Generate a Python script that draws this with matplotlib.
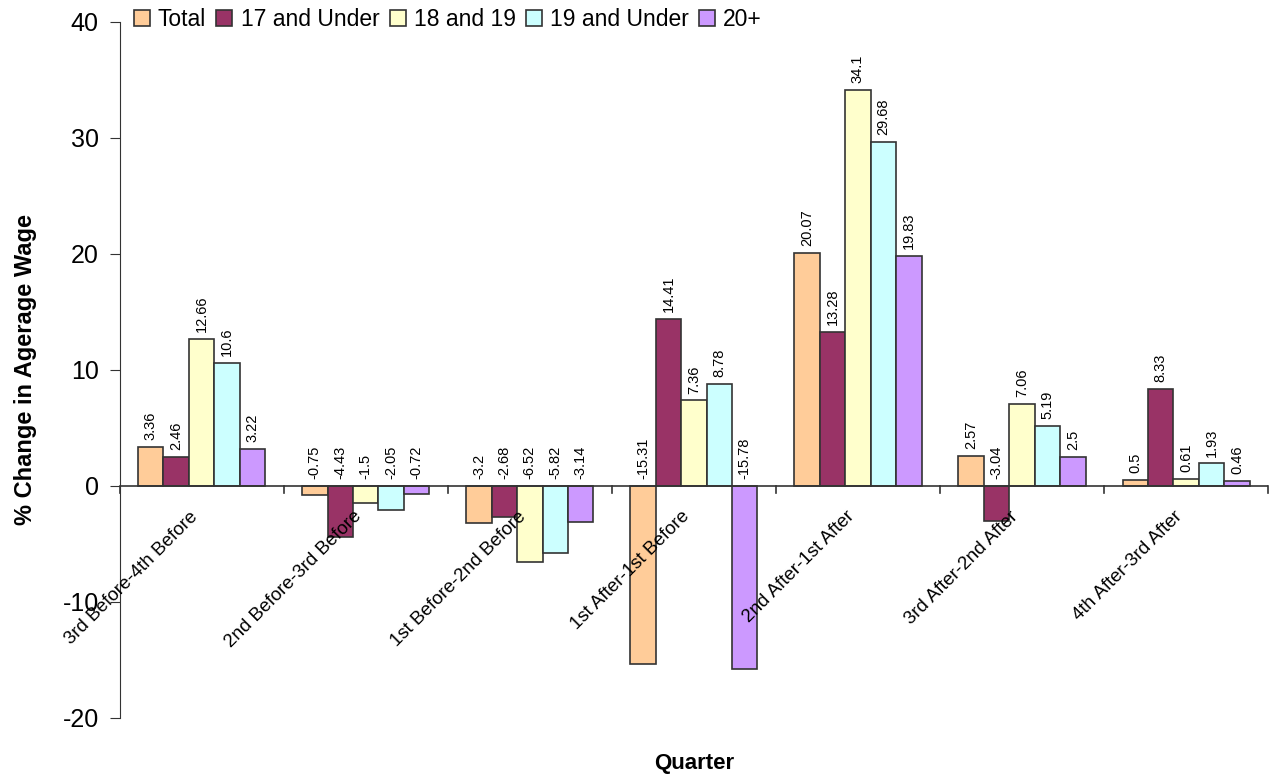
import numpy as np
import matplotlib
matplotlib.use("Agg")
import matplotlib.pyplot as plt

plt.rcParams['font.family'] = ['Liberation Sans', 'DejaVu Sans']
plt.rcParams['axes.unicode_minus'] = False

quarters = ["3rd Before-4th Before", "2nd Before-3rd Before", "1st Before-2nd Before",
            "1st After-1st Before", "2nd After-1st After", "3rd After-2nd After",
            "4th After-3rd After"]
series = ["Total", "17 and Under", "18 and 19", "19 and Under", "20+"]
total = [3.36, -0.75, -3.2, -15.31, 20.07, 2.57, 0.5]
under17 = [2.46, -4.43, -2.68, 14.41, 13.28, -3.04, 8.33]
age18_19 = [12.66, -1.5, -6.52, 7.36, 34.1, 7.06, 0.61]
under19 = [10.6, -2.05, -5.82, 8.78, 29.68, 5.19, 1.93]
age20plus = [3.22, -0.72, -3.14, -15.78, 19.83, 2.5, 0.46]
colors = ["#FFCC99", "#993366", "#FFFFCC", "#CCFFFF", "#CC99FF"]

values = [total, under17, age18_19, under19, age20plus]

fig = plt.figure(figsize=(12.72, 7.77), dpi=100)
ax = fig.add_axes([0.094, 0.076, 0.903, 0.896])

x = np.arange(len(quarters))
w = 0.155
for i, (name, vals, c) in enumerate(zip(series, values, colors)):
    pos = x + (i - 2) * w
    ax.bar(pos, vals, w, color=c, edgecolor="#333333", linewidth=1.2, label=name)
    for p, v in zip(pos, vals):
        base = max(v, 0)
        ax.annotate(f"{v:g}", (p, base), xytext=(0, 5), textcoords="offset points",
                    rotation=90, ha="center", va="bottom", fontsize=10.5)

ax.set_xlim(-0.5, len(quarters) - 0.5)
ax.set_ylim(-20, 40)
ax.set_yticks([-20, -10, 0, 10, 20, 30, 40])
ax.tick_params(axis='y', labelsize=18, length=7, pad=8, color="#333333")

for s in ["top", "right", "bottom"]:
    ax.spines[s].set_visible(False)
ax.spines["left"].set_color("#333333")
ax.axhline(0, color="#333333", linewidth=1.2, zorder=3)

# tick marks at group boundaries, labels drawn separately
ax.set_xticks(np.arange(-0.5, len(quarters)))
ax.set_xticklabels([])
ax.tick_params(axis='x', length=0)
for b in np.arange(-0.5, len(quarters)):
    ax.plot([b, b], [0, -0.6], color="#333333", linewidth=1.2, clip_on=False)

for i, q in enumerate(quarters):
    ax.annotate(q, (i, 0), xytext=(-9, -16), textcoords="offset points",
                rotation=45, rotation_mode="anchor", ha="right", va="top", fontsize=13.5)

ax.set_ylabel("% Change in Agerage Wage", fontsize=17, fontweight="bold")
ax.yaxis.set_label_coords(-0.072, 0.5)
ax.set_xlabel("Quarter", fontsize=16, fontweight="bold")
ax.xaxis.set_label_coords(0.5, -0.05)

leg = fig.legend(loc="upper left", bbox_to_anchor=(0.098, 1.002), ncol=5, frameon=False,
                 fontsize=16.5, handlelength=0.7, handleheight=0.7, handletextpad=0.35,
                 columnspacing=0.45, borderaxespad=0)

fig.savefig("out.png", dpi=100)
